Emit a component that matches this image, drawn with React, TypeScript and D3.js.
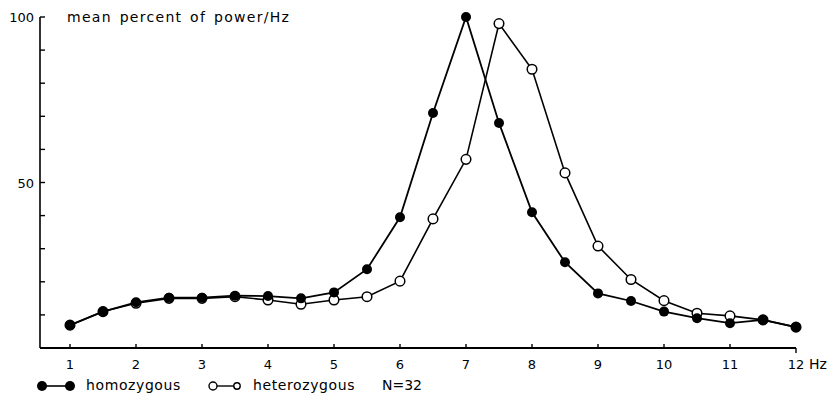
import React from 'react';
import * as d3 from 'd3';

// frequency steps (Hz) and mean percent of power/Hz
const freqs = [1, 1.5, 2, 2.5, 3, 3.5, 4, 4.5, 5, 5.5, 6, 6.5, 7, 7.5, 8, 8.5, 9, 9.5, 10, 10.5, 11, 11.5, 12];
const homozygous = [6.9, 11, 13.8, 15.2, 15.2, 15.8, 15.7, 15.0, 16.8, 23.8, 39.5, 71, 100, 68, 41, 25.9, 16.5, 14.2, 11.0, 9.0, 7.5, 8.5, 6.3];
const heterozygous = [6.9, 11, 13.5, 15, 15, 15.5, 14.5, 13.2, 14.5, 15.5, 20.2, 39, 57, 98, 84.2, 52.9, 30.8, 20.7, 14.3, 10.5, 9.7, 8.5, 6.3];
const xTicks = [1, 2, 3, 4, 5, 6, 7, 8, 9, 10, 11, 12];
const yTicks = [10, 20, 30, 40, 50, 60, 70, 80, 90, 100];
const yLabels = [50, 100];

const W = 831;
const H = 396;
const font = '"DejaVu Sans", sans-serif';

const App = () => {
  const x = d3.scaleLinear().domain([1, 12]).range([70, 796]);
  const y = d3.scaleLinear().domain([0, 100]).range([348, 17]);
  const axisX = 40;
  const axisY = y(0);

  const line = d3.line<number>()
    .x((d, i) => x(freqs[i]))
    .y(d => y(d));

  return (
    <svg width={W} height={H} style={{ position: 'absolute', left: 0, top: 0, background: '#fff' }}>
      {/* y axis */}
      <line x1={axisX} x2={axisX} y1={y(100)} y2={axisY} stroke="#000" strokeWidth={1.6} />
      {yTicks.map(t => (
        <line key={t} x1={axisX} x2={axisX + 5} y1={y(t)} y2={y(t)} stroke="#000" strokeWidth={1.4} />
      ))}
      {yLabels.map(t => (
        <text key={t} x={axisX - 6} y={y(t) + 5} textAnchor="end" fontFamily={font} fontSize={13} fill="#000">{t}</text>
      ))}
      <text x={67} y={22} fontFamily={font} fontSize={14} letterSpacing={1.3} wordSpacing={2} fill="#000">mean percent of power/Hz</text>

      {/* x axis */}
      <line x1={axisX} x2={x(12)} y1={axisY} y2={axisY} stroke="#000" strokeWidth={1.8} />
      {xTicks.map(t => (
        <line key={t} x1={x(t)} x2={x(t)} y1={axisY} y2={t === 12 ? axisY + 5 : axisY - 4} stroke="#000" strokeWidth={1.4} />
      ))}
      {xTicks.map(t => (
        <text key={t} x={x(t)} y={369} textAnchor="middle" fontFamily={font} fontSize={13} fill="#000">{t}</text>
      ))}
      <text x={x(12) + 13} y={369} fontFamily={font} fontSize={14} fill="#000">Hz</text>

      {/* series */}
      <path d={line(heterozygous) || ''} fill="none" stroke="#000" strokeWidth={1.6} />
      <path d={line(homozygous) || ''} fill="none" stroke="#000" strokeWidth={1.8} />
      {heterozygous.map((v, i) => (
        <circle key={'o' + i} cx={x(freqs[i])} cy={y(v)} r={4.8} fill="#fff" stroke="#000" strokeWidth={1.5} />
      ))}
      {homozygous.map((v, i) => (
        <circle key={'f' + i} cx={x(freqs[i])} cy={y(v)} r={5} fill="#000" />
      ))}

      {/* legend */}
      <line x1={42} x2={70} y1={386} y2={386} stroke="#000" strokeWidth={1.6} />
      <circle cx={42} cy={386} r={5} fill="#000" />
      <circle cx={70} cy={386} r={5} fill="#000" />
      <text x={86} y={390} fontFamily={font} fontSize={14} letterSpacing={0.6} fill="#000">homozygous</text>
      <line x1={213} x2={237} y1={386} y2={386} stroke="#000" strokeWidth={1.4} />
      <circle cx={213} cy={386} r={4} fill="#fff" stroke="#000" strokeWidth={1.4} />
      <circle cx={237} cy={386} r={3.2} fill="#fff" stroke="#000" strokeWidth={1.4} />
      <text x={253} y={390} fontFamily={font} fontSize={14} letterSpacing={0.6} fill="#000">heterozygous</text>
      <text x={382} y={390} fontFamily={font} fontSize={14} fill="#000">N=32</text>
    </svg>
  );
};

export default App;
